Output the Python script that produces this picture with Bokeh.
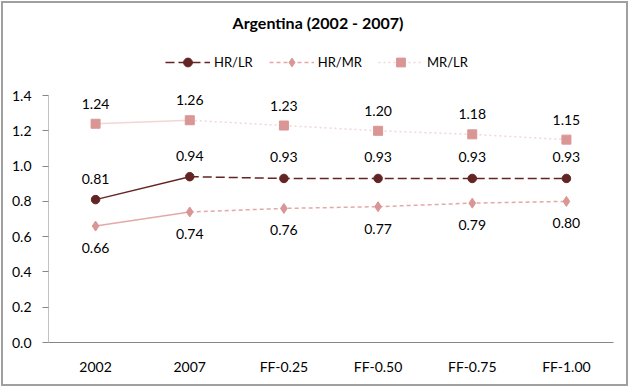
from bokeh.plotting import figure
from bokeh.models import (ColumnDataSource, FactorRange, LabelSet, Label, Legend, LegendItem,
                          FixedTicker, NumeralTickFormatter, Range1d)
from bokeh.core.properties import value
from bokeh.embed import file_html
from bokeh.resources import INLINE

categories = ["2002", "2007", "FF-0.25", "FF-0.50", "FF-0.75", "FF-1.00"]
hr_lr = [0.81, 0.94, 0.93, 0.93, 0.93, 0.93]
hr_mr = [0.66, 0.74, 0.76, 0.77, 0.79, 0.80]
mr_lr = [1.24, 1.26, 1.23, 1.20, 1.18, 1.15]
y_ticks = [0.0, 0.2, 0.4, 0.6, 0.8, 1.0, 1.2, 1.4]
title_text = "Argentina (2002 - 2007)"

FONT = "Lato"
C_HRLR = "#632523"
C_HRMR_M = "#D99694"
C_HRMR_L = "#E3A9A8"
C_MRLR_M = "#D99694"
C_MRLR_L = "#F2D6D5"
AX = "#868686"

W, H = 627, 385
BL, BR, BB = 45, 17, 46
PX_PER_UNIT = 176.4
y_top = (H - BB) / PX_PER_UNIT

p = figure(width=W, height=H, x_range=FactorRange(factors=categories),
           y_range=Range1d(0, y_top), output_backend="svg", toolbar_location=None,
           title=None, min_border_left=BL, min_border_right=BR, min_border_bottom=BB,
           min_border_top=0, background_fill_color="white", border_fill_color="white",
           styles={"border": "2px solid #a0a0a0", "margin": "1px"})
p.outline_line_color = None
p.xgrid.grid_line_color = None
p.ygrid.grid_line_color = None

src = ColumnDataSource(dict(x=categories, hr_lr=hr_lr, hr_mr=hr_mr, mr_lr=mr_lr,
                            t1=[f"{v:.2f}" for v in hr_lr],
                            t2=[f"{v:.2f}" for v in hr_mr],
                            t3=[f"{v:.2f}" for v in mr_lr]))

# y axis line only up to the top tick (synthetic x = 0 is the left frame edge)
p.segment(x0=[0], y0=[y_ticks[0]], x1=[0], y1=[y_ticks[-1]], line_color=AX, line_width=1)

# MR/LR
p.line(categories[:2], mr_lr[:2], line_color=C_MRLR_L, line_width=1.5)
d3 = p.line(categories[1:], mr_lr[1:], line_color=C_MRLR_L, line_width=1.5, line_dash="2 3")
s3 = p.scatter("x", "mr_lr", source=src, marker="square", size=9, fill_color=C_MRLR_M, line_color=C_MRLR_M)

# HR/MR
p.line(categories[:2], hr_mr[:2], line_color=C_HRMR_L, line_width=1.5)
d2 = p.line(categories[1:], hr_mr[1:], line_color=C_HRMR_L, line_width=1.5, line_dash="4 3")
s2 = p.scatter("x", "hr_mr", source=src, marker="diamond", size=10, fill_color=C_HRMR_M, line_color=C_HRMR_M)

# HR/LR
p.line(categories[:2], hr_lr[:2], line_color=C_HRLR, line_width=1.5)
d1 = p.line(categories[1:], hr_lr[1:], line_color=C_HRLR, line_width=1.5, line_dash="9 4")
s1 = p.scatter("x", "hr_lr", source=src, marker="circle", size=8.5, fill_color=C_HRLR, line_color=C_HRLR)

common = dict(source=src, text_font=value(FONT), text_font_size=value("14px"), text_color="#000000",
              text_align="center", text_baseline="middle")
p.add_layout(LabelSet(x="x", y="hr_lr", text="t1", y_offset=21, **common))
p.add_layout(LabelSet(x="x", y="hr_mr", text="t2", y_offset=-22, **common))
p.add_layout(LabelSet(x="x", y="mr_lr", text="t3", y_offset=20, **common))

# title (centered over the whole chart)
p.add_layout(Label(x=len(categories) / 2, y=(H - BB - 19) / PX_PER_UNIT, x_offset=-13,
                   text=title_text, text_font=FONT, text_font_size="16px", text_font_style="bold",
                   text_color="#000000", text_align="center", text_baseline="middle"))

legend = Legend(items=[LegendItem(label="HR/LR", renderers=[d1, s1]),
                       LegendItem(label="HR/MR", renderers=[d2, s2]),
                       LegendItem(label="MR/LR", renderers=[d3, s3])],
                orientation="horizontal", location=(117, 280 - 11),
                border_line_color=None, background_fill_alpha=0,
                label_text_font=FONT, label_text_font_size="13px", label_text_color="#000000",
                glyph_width=45, glyph_height=22, label_standoff=4, spacing=16,
                margin=0, padding=0)
p.add_layout(legend, "center")

p.yaxis.ticker = FixedTicker(ticks=y_ticks)
p.yaxis.formatter = NumeralTickFormatter(format="0.0")
p.yaxis.minor_tick_line_color = None
p.yaxis.major_tick_in = 0
p.yaxis.major_tick_out = 6
p.yaxis.axis_line_color = None
p.yaxis.major_tick_line_color = AX
p.yaxis.major_label_text_font = FONT
p.yaxis.major_label_text_font_size = "14px"
p.yaxis.major_label_text_color = "#000000"
p.yaxis.major_label_standoff = 11

p.xaxis.axis_line_color = AX
p.xaxis.major_tick_line_color = None
p.xaxis.minor_tick_line_color = None
p.xaxis.major_label_text_font = FONT
p.xaxis.major_label_text_font_size = "14px"
p.xaxis.major_label_text_color = "#000000"
p.xaxis.major_label_standoff = 9

open("out.html", "w").write(file_html(p, INLINE))
